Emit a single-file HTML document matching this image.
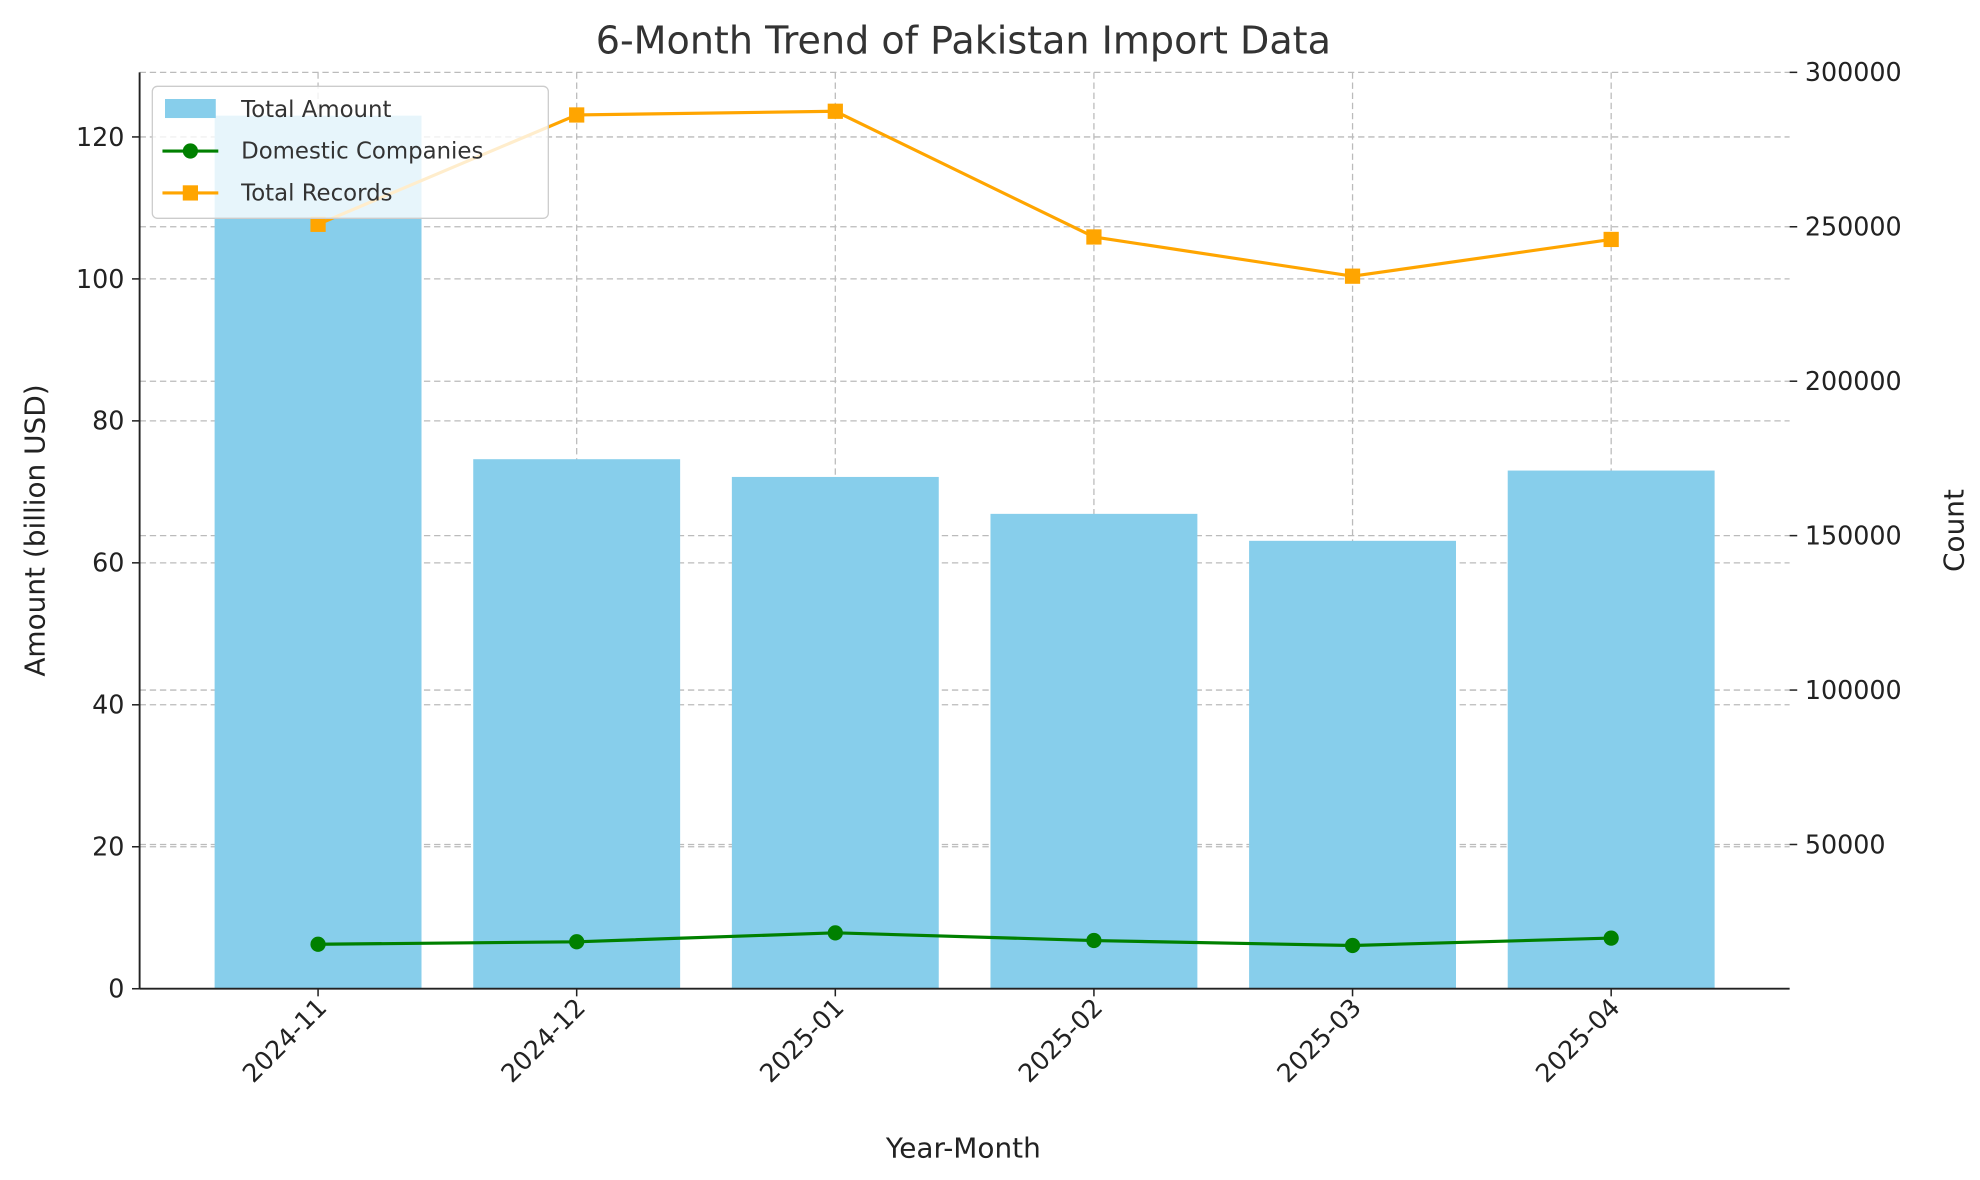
<!DOCTYPE html>
<html><head><meta charset="utf-8"><style>
html,body{margin:0;padding:0;background:#fff;}
svg{display:block;font-family:"DejaVu Sans","Liberation Sans",sans-serif;}
</style></head><body>
<svg id="chart" width="1980" height="1180" viewBox="0 0 1560 929.7" preserveAspectRatio="none" xmlns="http://www.w3.org/2000/svg">
<g id="grid"></g>
<g id="bars"></g>
<g id="lines"></g>
<g id="axes"></g>
<text x="759" y="42" text-anchor="middle" font-size="30" fill="#333">6-Month Trend of Pakistan Import Data</text>
<text x="759" y="912" text-anchor="middle" font-size="22" fill="#222">Year-Month</text>
<text transform="translate(35,418) rotate(-90)" text-anchor="middle" font-size="22" fill="#222">Amount (billion USD)</text>
<text transform="translate(1547,418) rotate(-90)" text-anchor="middle" font-size="22" fill="#222">Count</text>
<g>
<rect x="120" y="68" width="312" height="104" rx="4" fill="#fff" fill-opacity="0.8" stroke="#ccc"/>
<g><rect x="130" y="78" width="40" height="15" fill="#87CEEB"/><text x="190" y="92" font-size="18" fill="#333">Total Amount</text></g>
<g><line x1="128" y1="119" x2="172" y2="119" stroke="green" stroke-width="2.5"/><circle cx="150" cy="119" r="6" fill="green"/><text x="190" y="125" font-size="18" fill="#333">Domestic Companies</text></g>
<g><line x1="128" y1="152" x2="172" y2="152" stroke="orange" stroke-width="2.5"/><rect x="144" y="146" width="12" height="12" fill="orange"/><text x="190" y="158" font-size="18" fill="#333">Total Records</text></g>
</g>
<script>
const categories = ["2024-11","2024-12","2025-01","2025-02","2025-03","2025-04"];
const totalAmount = [123.0, 74.6, 72.1, 66.9, 63.1, 73.0];
const domesticCompanies = [17700, 18500, 21400, 18900, 17300, 19700];
const totalRecords = [250800, 286200, 287400, 246700, 234000, 245900];
const leftTicks = [0,20,40,60,80,100,120];
const rightTicks = [50000,100000,150000,200000,250000,300000];

const NS="http://www.w3.org/2000/svg";
const L=110,R=1410,T=57,B=779;
const xMin=-0.69,xMax=5.69;
const x=i=>L+(i-xMin)/(xMax-xMin)*(R-L);
const yL=v=>B-(v-0)/(129.1-0)*(B-T);
const y2Min=3300,y2Max=300000;
const yR=v=>B-(v-y2Min)/(y2Max-y2Min)*(B-T);
function mk(tag,attrs,parent){const e=document.createElementNS(NS,tag);for(const k in attrs)e.setAttribute(k,attrs[k]);parent.appendChild(e);return e;}
const grid=document.getElementById('grid'),bars=document.getElementById('bars'),lines=document.getElementById('lines'),axes=document.getElementById('axes');
const gs={stroke:"#bbb","stroke-width":1,"stroke-dasharray":"5,3"};
leftTicks.forEach(v=>{
 const g=mk('line',Object.assign({x1:L,x2:R,y1:yL(v),y2:yL(v)},gs),grid);
 
 
 mk('line',{x1:L-6,x2:L,y1:yL(v),y2:yL(v),stroke:"#222","stroke-width":1.2},axes);
 const t=mk('text',{x:L-12,y:yL(v)+7,"text-anchor":"end","font-size":20,fill:"#222"},axes);
 
 
 t.textContent=v;
});
rightTicks.forEach(v=>{
 const g=mk('line',Object.assign({x1:L,x2:R,y1:yR(v),y2:yR(v)},gs),grid);
 
 
 mk('line',{x1:R,x2:R+6,y1:yR(v),y2:yR(v),stroke:"#222","stroke-width":1.2},axes);
 const t=mk('text',{x:R+12,y:yR(v)+7,"font-size":20,fill:"#222"},axes);
 
 
 t.textContent=v;
});
categories.forEach((c,i)=>{
 const g=mk('line',Object.assign({x1:x(i),x2:x(i),y1:T,y2:B},gs),grid);
 
 
 const bw=(x(0.4)-x(0));
 const b=mk('rect',{x:x(i)-bw,y:yL(totalAmount[i]),width:2*bw,height:B-yL(totalAmount[i]),fill:"#87CEEB"},bars);
 
 
 mk('line',{x1:x(i),x2:x(i),y1:B,y2:B+6,stroke:"#222","stroke-width":1.2},axes);
 const t=mk('text',{transform:`translate(${x(i)+8},${B+16}) rotate(-45)`,"text-anchor":"end","font-size":20,fill:"#222"},axes);
 
 
 t.textContent=c;
});
const pd=domesticCompanies.map((v,i)=>x(i)+","+yR(v)).join(" ");
const l1=mk('polyline',{points:pd,fill:"none",stroke:"green","stroke-width":2.5},lines);


domesticCompanies.forEach((v,i)=>{const c=mk('circle',{cx:x(i),cy:yR(v),r:6,fill:"green"},lines);
 
 });
const pr=totalRecords.map((v,i)=>x(i)+","+yR(v)).join(" ");
const l2=mk('polyline',{points:pr,fill:"none",stroke:"orange","stroke-width":2.5},lines);


totalRecords.forEach((v,i)=>{const c=mk('rect',{x:x(i)-6,y:yR(v)-6,width:12,height:12,fill:"orange"},lines);
 
 });
mk('line',{x1:L,x2:L,y1:T,y2:B,stroke:"#222","stroke-width":1.5},axes);
mk('line',{x1:L,x2:R,y1:B,y2:B,stroke:"#222","stroke-width":1.5},axes);
</script>
</svg>
</body></html>
